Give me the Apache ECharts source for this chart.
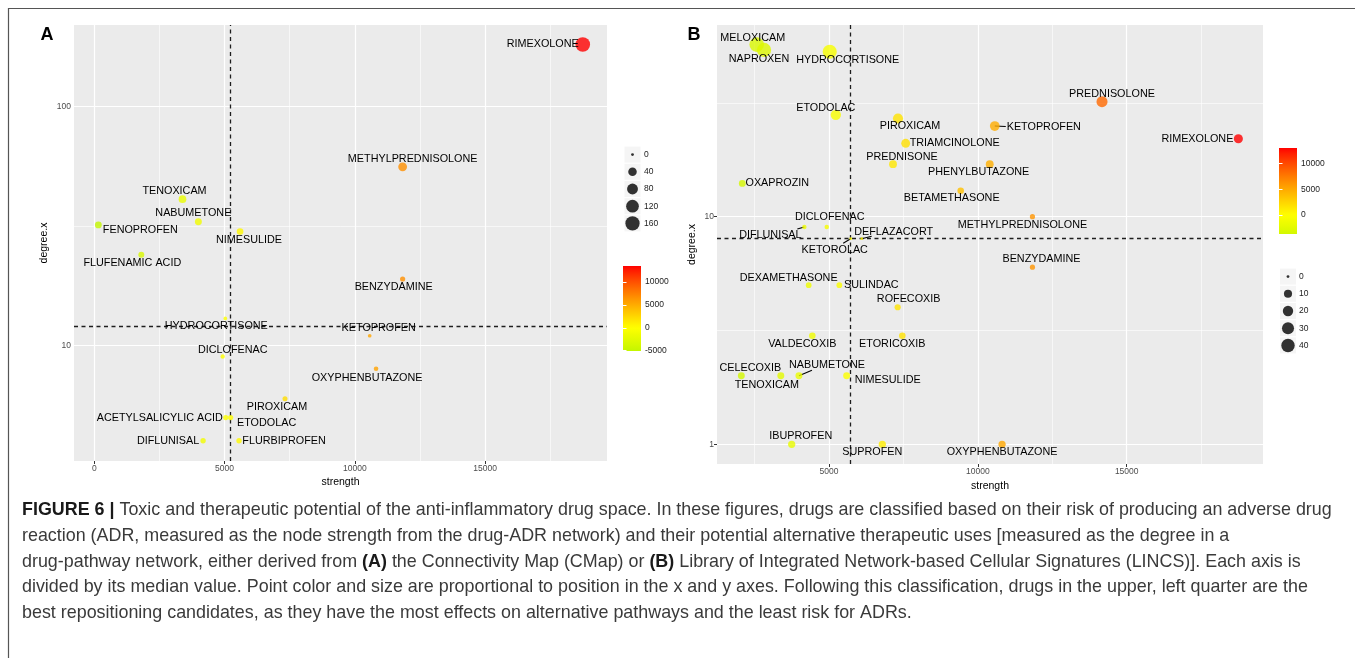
<!DOCTYPE html>
<html><head><meta charset="utf-8">
<script src="https://cdn.jsdelivr.net/npm/echarts@6/dist/echarts.min.js"></script>
<style>html,body{margin:0;padding:0;background:#fff}#c{width:1355px;height:658px}</style>
</head><body><div id="c"></div>
<script>
// ---------- DATA ----------
const drugsA = ["RIMEXOLONE","METHYLPREDNISOLONE","TENOXICAM","NABUMETONE","FENOPROFEN","NIMESULIDE","FLUFENAMIC ACID","BENZYDAMINE","HYDROCORTISONE","KETOPROFEN","DICLOFENAC","OXYPHENBUTAZONE","PIROXICAM","ACETYLSALICYLIC ACID","ETODOLAC","DIFLUNISAL","FLURBIPROFEN"];
const strengthA = [18750,11835,3385,3994,154,5595,1804,11835,5028,10570,4928,10815,7320,5044,5232,4175,5555];
const degreeA = [182,56,41,33,32,30,24,19,13,11,9,8,6,5,5,4,4];

const drugsB = ["MELOXICAM","NAPROXEN","HYDROCORTISONE","ETODOLAC","PIROXICAM","KETOPROFEN","PREDNISOLONE","RIMEXOLONE","TRIAMCINOLONE","PREDNISONE","PHENYLBUTAZONE","OXAPROZIN","BETAMETHASONE","METHYLPREDNISOLONE","DICLOFENAC","DIFLUNISAL","KETOROLAC","DEFLAZACORT","BENZYDAMINE","DEXAMETHASONE","SULINDAC","ROFECOXIB","VALDECOXIB","ETORICOXIB","CELECOXIB","TENOXICAM","NABUMETONE","NIMESULIDE","IBUPROFEN","SUPROFEN","OXYPHENBUTAZONE"];
const strengthB = [2576,2821,5028,5232,7320,10570,14171,18750,7578,7153,10400,2092,9426,11835,4928,4175,5732,6101,11835,4321,5350,7309,4443,7465,2059,3385,3994,5595,3750,6794,10815];
const degreeB = [57,54,53,28,27,25,32,22,21,17,17,14,13,10,9,9,8,8,6,5,5,4,3,3,2,2,2,2,1,1,1];

const medianStrengthA = 5236, medianDegreeA = 12;
const medianStrengthB = 5732, medianDegreeB = 8;

const xTicksA = [0,5000,10000,15000], xMinorA = [2500,7500,12500,17500];
const yTicksA = [10,100], yMinorA = [31.62];
const xTicksB = [5000,10000,15000], xMinorB = [2500,7500,12500,17500];
const yTicksB = [1,10], yMinorB = [3.162,31.62];
const colorTicksA = [-5000,0,5000,10000];
const colorTicksB = [0,5000,10000];
const sizeBreaksA = [0,40,80,120,160];
const sizeBreaksB = [0,10,20,30,40];

// ---------- label placement (px offset of label centre from its point) ----------
const labelOffsetA = [[-40,0],[10,-8],[-8,-8],[-5,-9],[42,5],[9,8],[-9,8],[-9,8],[-9,8],[9,-8],[10,-7],[-9,9],[-8,8],[-66,0],[36,5],[-35,0],[45,0]];
const labelOffsetB = [[-4,-7],[-5,9],[18,8],[-10,-7],[12,8],[49,1],[10,-8],[-41,0],[49,0],[9,-7],[-11,8],[35,0],[-9,7],[-10,8],[3,-10],[-34,8],[-16,11],[32,-7],[9,-8],[-20,-7],[32,0],[11,-8],[-10,8],[-10,8],[9,-8],[-14,9],[28,-11],[41,4],[9,-8],[-10,8],[0,8]];
// repel segments: px offset of the segment end from its point
const guideNamesB = ["KETOPROFEN","DIFLUNISAL","KETOROLAC","DEFLAZACORT","NABUMETONE"];
const guideEndsB = [[11,0.5],[-7,2],[-7.5,4.5],[10,-2.5],[13,-5.5]];

// ---------- scales ----------
function gradColor(v, m) {
  const t = Math.max(-1, Math.min(1, v / m));
  let r, g;
  if (t >= 0) { r = 255; g = 255 * Math.pow(1 - t, 0.85); }
  else { const u = -t; r = 255 * Math.pow(1 - u, 0.57); g = 255 - 25 * u; }
  return 'rgb(' + Math.round(r) + ',' + Math.round(g) + ',0)';
}
function dotSize(s, smax) { return 2.8 + 11.8 * Math.sqrt(Math.max(0, s) / smax); }
const plain = v => String(v);

function buildPanel(drugs, strength, degree, medS, medD, offsets) {
  const cv = strength.map(s => s - medS);
  const cabs = Math.max(...cv.map(Math.abs));
  const sv = degree.map(d => Math.abs(d - medD));
  const smax = Math.max(...sv);
  const data = drugs.map((n, i) => ({
    name: n, value: [strength[i], degree[i]],
    symbolSize: dotSize(sv[i], smax),
    itemStyle: { color: gradColor(cv[i], cabs) },
    label: { offset: offsets[i] }
  }));
  return { data, cmin: Math.min(...cv), cmax: Math.max(...cv), cabs, smax };
}
const PA = buildPanel(drugsA, strengthA, degreeA, medianStrengthA, medianDegreeA, labelOffsetA);
const PB = buildPanel(drugsB, strengthB, degreeB, medianStrengthB, medianDegreeB, labelOffsetB);

const FONT = 'Liberation Sans';
const TICKCOL = '#4d4d4d';

function gridLines(xMaj, xMin, yMaj, yMin, medX, medY) {
  const d = [];
  xMin.forEach(v => d.push({ xAxis: v, lineStyle: { color: '#fff', width: 0.6, type: 'solid' } }));
  yMin.forEach(v => d.push({ yAxis: v, lineStyle: { color: '#fff', width: 0.6, type: 'solid' } }));
  xMaj.forEach(v => d.push({ xAxis: v, lineStyle: { color: '#fff', width: 1.2, type: 'solid' } }));
  yMaj.forEach(v => d.push({ yAxis: v, lineStyle: { color: '#fff', width: 1.2, type: 'solid' } }));
  d.push({ xAxis: medX, lineStyle: { color: '#1e1e1e', width: 1.3, type: [4, 3.5] } });
  d.push({ yAxis: medY, lineStyle: { color: '#1e1e1e', width: 1.3, type: [4, 3.5] } });
  return d;
}

function panelX(idx, min, max, ticks, gap) {
  return {
    type: 'value', gridIndex: idx, min, max,
    axisLine: { show: false }, splitLine: { show: false },
    axisTick: { show: true, length: 3, customValues: ticks, lineStyle: { color: '#333', width: 1 } },
    axisLabel: { customValues: ticks, formatter: plain, fontSize: 8.5, color: TICKCOL, margin: 3, fontFamily: FONT },
    name: 'strength', nameLocation: 'middle', nameGap: gap, nameMoveOverlap: false,
    nameTextStyle: { fontSize: 10.5, color: '#000', fontFamily: FONT }
  };
}
function panelY(idx, min, max, ticks, gap) {
  return {
    type: 'log', logBase: 10, gridIndex: idx, min, max,
    axisLine: { show: false }, splitLine: { show: false }, minorSplitLine: { show: false },
    axisTick: { show: true, length: 3, customValues: ticks, lineStyle: { color: '#333', width: 1 } },
    axisLabel: { customValues: ticks, formatter: plain, fontSize: 8.5, color: TICKCOL, margin: 3, fontFamily: FONT },
    name: 'degree.x', nameLocation: 'middle', nameGap: gap, nameRotate: 90, nameMoveOverlap: false,
    nameTextStyle: { fontSize: 10.5, color: '#000', fontFamily: FONT }
  };
}
function pointSeries(xi, P) {
  return {
    type: 'scatter', xAxisIndex: xi, yAxisIndex: xi, z: 10, silent: true,
    data: P.data,
    label: { show: true, position: 'inside', formatter: '{b}', color: '#000', fontSize: 10.8, fontFamily: FONT,
      textBorderWidth: 0, textBorderColor: 'transparent', textShadowBlur: 0, opacity: 1 },
    emphasis: { disabled: true }
  };
}
function guideSeries(xi, names, drugs, strength, degree, ends) {
  const data = names.map((n, k) => { const i = drugs.indexOf(n); return [strength[i], degree[i], ends[k][0], ends[k][1]]; });
  return {
    type: 'custom', xAxisIndex: xi, yAxisIndex: xi, z: 8, silent: true, data,
    renderItem: function (params, api) {
      const p = api.coord([api.value(0), api.value(1)]);
      return { type: 'line', shape: { x1: p[0], y1: p[1], x2: p[0] + api.value(2), y2: p[1] + api.value(3) },
        style: { stroke: '#000', lineWidth: 1.1 } };
    }
  };
}
function stops(cmin, cmax, cabs) {
  const s = [];
  for (let i = 0; i <= 30; i++) { const v = cmin + (cmax - cmin) * i / 30; s.push({ offset: i / 30, color: gradColor(v, cabs) }); }
  return s;
}
function colorbarSeries(xi, yi, P) {
  return {
    type: 'custom', xAxisIndex: xi, yAxisIndex: yi, silent: true,
    data: [[0, P.cmin, 1, P.cmax]],
    renderItem: function (params, api) {
      const p0 = api.coord([api.value(0), api.value(1)]);
      const p1 = api.coord([api.value(2), api.value(3)]);
      return { type: 'rect', shape: { x: p0[0], y: p1[1], width: p1[0] - p0[0], height: p0[1] - p1[1] },
        style: { fill: new echarts.graphic.LinearGradient(0, 1, 0, 0, stops(P.cmin, P.cmax, P.cabs)) } };
    }
  };
}
function cbY(idx, P, ticks, side) {
  return {
    type: 'value', gridIndex: idx, min: P.cmin, max: P.cmax, position: side, z: 5,
    axisLine: { show: false }, splitLine: { show: false },
    axisTick: { show: true, inside: true, length: 3.5, customValues: ticks, lineStyle: { color: '#fff', width: 1 } },
    axisLabel: { show: side === 'right', customValues: ticks, formatter: plain, fontSize: 8.5, color: '#222', margin: 4, fontFamily: FONT }
  };
}
function sizeY(idx, breaks) {
  return {
    type: 'category', gridIndex: idx, data: breaks.map(String), inverse: true, position: 'right',
    axisLine: { show: false }, axisTick: { show: false }, splitLine: { show: false },
    axisLabel: { fontSize: 8.5, color: '#222', margin: 3, fontFamily: FONT }
  };
}
function sizeSeries(xi, yi, breaks, smax) {
  return [
    { type: 'scatter', xAxisIndex: xi, yAxisIndex: yi, silent: true, symbol: 'rect', symbolSize: [16, 16],
      itemStyle: { color: '#f2f2f2' }, data: breaks.map(b => ['k', String(b)]) },
    { type: 'scatter', xAxisIndex: xi, yAxisIndex: yi, silent: true, z: 3, itemStyle: { color: '#000' },
      data: breaks.map(b => ({ value: ['k', String(b)], symbolSize: dotSize(b, smax) })) }
  ];
}

const captionLines = [
  '{b|FIGURE 6 |} Toxic and therapeutic potential of the anti-inflammatory drug space. In these figures, drugs are classified based on their risk of producing an adverse drug',
  'reaction (ADR, measured as the node strength from the drug-ADR network) and their potential alternative therapeutic uses [measured as the degree in a',
  'drug-pathway network, either derived from {b|(A)} the Connectivity Map (CMap) or {b|(B)} Library of Integrated Network-based Cellular Signatures (LINCS)]. Each axis is',
  'divided by its median value. Point color and size are proportional to position in the x and y axes. Following this classification, drugs in the upper, left quarter are the',
  'best repositioning candidates, as they have the most effects on alternative pathways and the least risk for ADRs.'
];
const CAP_FS = 17.9;
const graphics = [
  { type: 'line', shape: { x1: 8, y1: 8.5, x2: 1355, y2: 8.5 }, style: { stroke: '#555', lineWidth: 1.2 } },
  { type: 'line', shape: { x1: 8.5, y1: 8, x2: 8.5, y2: 658 }, style: { stroke: '#555', lineWidth: 1.2 } },
  { type: 'text', x: 47, y: 35, style: { text: 'A', fontSize: 18, fontWeight: 'bold', fontFamily: FONT, fill: '#000', align: 'center', verticalAlign: 'middle' } },
  { type: 'text', x: 694, y: 35, style: { text: 'B', fontSize: 18, fontWeight: 'bold', fontFamily: FONT, fill: '#000', align: 'center', verticalAlign: 'middle' } }
];
captionLines.forEach((t, i) => graphics.push({
  type: 'text', x: 22, y: 510 + i * 25.8,
  style: { text: t, fontSize: CAP_FS, fontFamily: FONT, fill: '#3a3a3a', verticalAlign: 'middle', align: 'left',
    rich: { b: { fontWeight: 'bold', fontSize: CAP_FS, fontFamily: FONT, fill: '#1a1a1a' } } }
}));

const option = {
  animation: false,
  textStyle: { fontFamily: FONT },
  grid: [
    { left: 74, top: 25, width: 533, height: 436, show: true, backgroundColor: '#ebebeb', borderWidth: 0, outerBoundsMode: 'none' },
    { left: 717, top: 25, width: 546, height: 439, show: true, backgroundColor: '#ebebeb', borderWidth: 0, outerBoundsMode: 'none' },
    { left: 623, top: 266, width: 18, height: 85, outerBoundsMode: 'none' },
    { left: 1279, top: 148, width: 18, height: 86, outerBoundsMode: 'none' },
    { left: 624, top: 146, width: 17, height: 86, outerBoundsMode: 'none' },
    { left: 1280, top: 268, width: 16, height: 86, outerBoundsMode: 'none' }
  ],
  xAxis: [
    panelX(0, -780, 19680, xTicksA, 16),
    panelX(1, 1242, 19577, xTicksB, 17),
    { type: 'value', gridIndex: 2, min: 0, max: 1, show: false },
    { type: 'value', gridIndex: 3, min: 0, max: 1, show: false },
    { type: 'category', gridIndex: 4, data: ['k'], show: false },
    { type: 'category', gridIndex: 5, data: ['k'], show: false }
  ],
  yAxis: [
    panelY(0, 3.29, 219.6, yTicksA, 24),
    panelY(1, 0.819, 69.5, yTicksB, 19),
    cbY(2, PA, colorTicksA, 'right'),
    cbY(2, PA, colorTicksA, 'left'),
    cbY(3, PB, colorTicksB, 'right'),
    cbY(3, PB, colorTicksB, 'left'),
    sizeY(4, sizeBreaksA),
    sizeY(5, sizeBreaksB)
  ],
  series: [
    { type: 'scatter', xAxisIndex: 0, yAxisIndex: 0, data: [], silent: true,
      markLine: { silent: true, symbol: 'none', label: { show: false }, animation: false, emphasis: { disabled: true },
        data: gridLines(xTicksA, xMinorA, yTicksA, yMinorA, medianStrengthA, medianDegreeA) } },
    { type: 'scatter', xAxisIndex: 1, yAxisIndex: 1, data: [], silent: true,
      markLine: { silent: true, symbol: 'none', label: { show: false }, animation: false, emphasis: { disabled: true },
        data: gridLines(xTicksB, xMinorB, yTicksB, yMinorB, medianStrengthB, medianDegreeB) } },
    guideSeries(1, guideNamesB, drugsB, strengthB, degreeB, guideEndsB),
    pointSeries(0, PA),
    pointSeries(1, PB),
    colorbarSeries(2, 2, PA),
    colorbarSeries(3, 4, PB),
    ...sizeSeries(4, 6, sizeBreaksA, PA.smax),
    ...sizeSeries(5, 7, sizeBreaksB, PB.smax)
  ],
  graphic: graphics
};
const chart = echarts.init(document.getElementById('c'), null, { renderer: 'canvas', width: 1355, height: 658 });
chart.setOption(option);
</script></body></html>
